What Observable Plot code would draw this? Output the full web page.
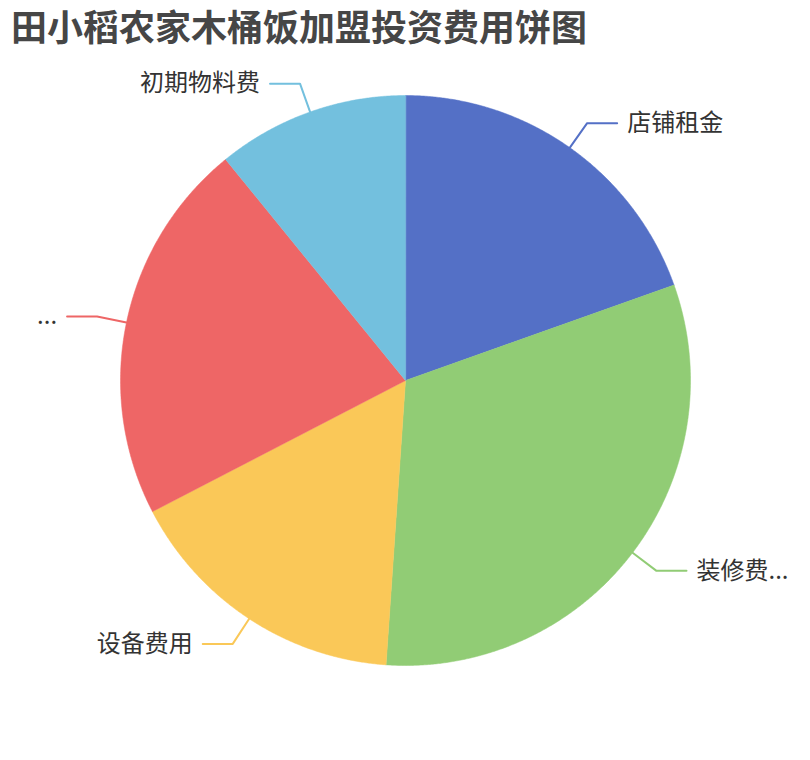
<!DOCTYPE html>
<html>
<head>
<meta charset="utf-8">
<script src="https://cdn.jsdelivr.net/npm/d3@7"></script>
<script src="https://cdn.jsdelivr.net/npm/@observablehq/plot@0.6"></script>
<style>
  body { margin: 0; background: #fff; }
  #wrap { position: relative; width: 810px; height: 760px; }
  #title { position: absolute; left: 11px; top: 6px; font-family: "Noto Sans CJK SC", sans-serif; font-weight: bold; font-size: 36px; color: #464646; line-height: 38px; white-space: nowrap; z-index: 1; }
  #chart svg { display: block; }
</style>
</head>
<body>
<div id="wrap">
  <div id="title">田小稻农家木桶饭加盟投资费用饼图</div>
  <div id="chart"></div>
</div>
<script>
const categories = ["店铺租金", "装修费用", "设备费用", "其他费用", "初期物料费"];
const labels = ["店铺租金", "装修费...", "设备费用", "...", "初期物料费"];
const values = [18, 29, 15, 20, 10];
const colors = ["#5470c6", "#91cc75", "#fac858", "#ee6666", "#73c0de"];

const W = 810, H = 760, R = 285;
const kx = (W / 2) / R, ky = (H / 2) / R;
const len1 = 30 / R, len2 = 30 / R, gap = 10 / R;

const arcs = d3.pie().sort(null).startAngle(0).endAngle(2 * Math.PI)(values);

const slicePts = [];
const linePts = [];
const labelPts = [];
arcs.forEach((a, i) => {
  const name = categories[i];
  slicePts.push({name, x: 0, y: 0});
  const n = Math.max(2, Math.ceil((a.endAngle - a.startAngle) / 0.005));
  for (let k = 0; k <= n; k++) {
    const t = a.startAngle + (a.endAngle - a.startAngle) * k / n;
    slicePts.push({name, x: Math.sin(t), y: Math.cos(t)});
  }
  const m = (a.startAngle + a.endAngle) / 2;
  const sx = Math.sin(m), sy = Math.cos(m);
  const right = sx >= 0;
  const p1 = {x: sx, y: sy};
  const p2 = {x: sx * (1 + len1), y: sy * (1 + len1)};
  const p3 = {x: p2.x + (right ? len2 : -len2), y: p2.y};
  [p1, p2, p3].forEach(p => linePts.push({name, ...p}));
  labelPts.push({name, label: labels[i], x: p3.x + (right ? gap : -gap), y: p3.y, anchor: right ? "start" : "end"});
});

const colorScale = {domain: categories, range: colors};

const plot = Plot.plot({
  width: W,
  height: H,
  margin: 0,
  x: {domain: [-kx, kx], range: [0, W], axis: null},
  y: {domain: [-ky, ky], range: [H, 0], axis: null},
  color: colorScale,
  style: {background: "#fff"},
  marks: [
    Plot.line(slicePts, {x: "x", y: "y", z: "name", fill: "name", stroke: "name", strokeWidth: 0.5, curve: "linear-closed"}),
    Plot.line(linePts, {x: "x", y: "y", z: "name", stroke: "name", strokeWidth: 2}),
    Plot.text(labelPts.filter(d => d.anchor === "start"), {x: "x", y: "y", text: "label", textAnchor: "start", fill: "#333", fontSize: 24, fontFamily: "Noto Sans CJK SC, sans-serif"}),
    Plot.text(labelPts.filter(d => d.anchor === "end"), {x: "x", y: "y", text: "label", textAnchor: "end", fill: "#333", fontSize: 24, fontFamily: "Noto Sans CJK SC, sans-serif"})
  ]
});
document.getElementById("chart").appendChild(plot);
</script>
</body>
</html>
